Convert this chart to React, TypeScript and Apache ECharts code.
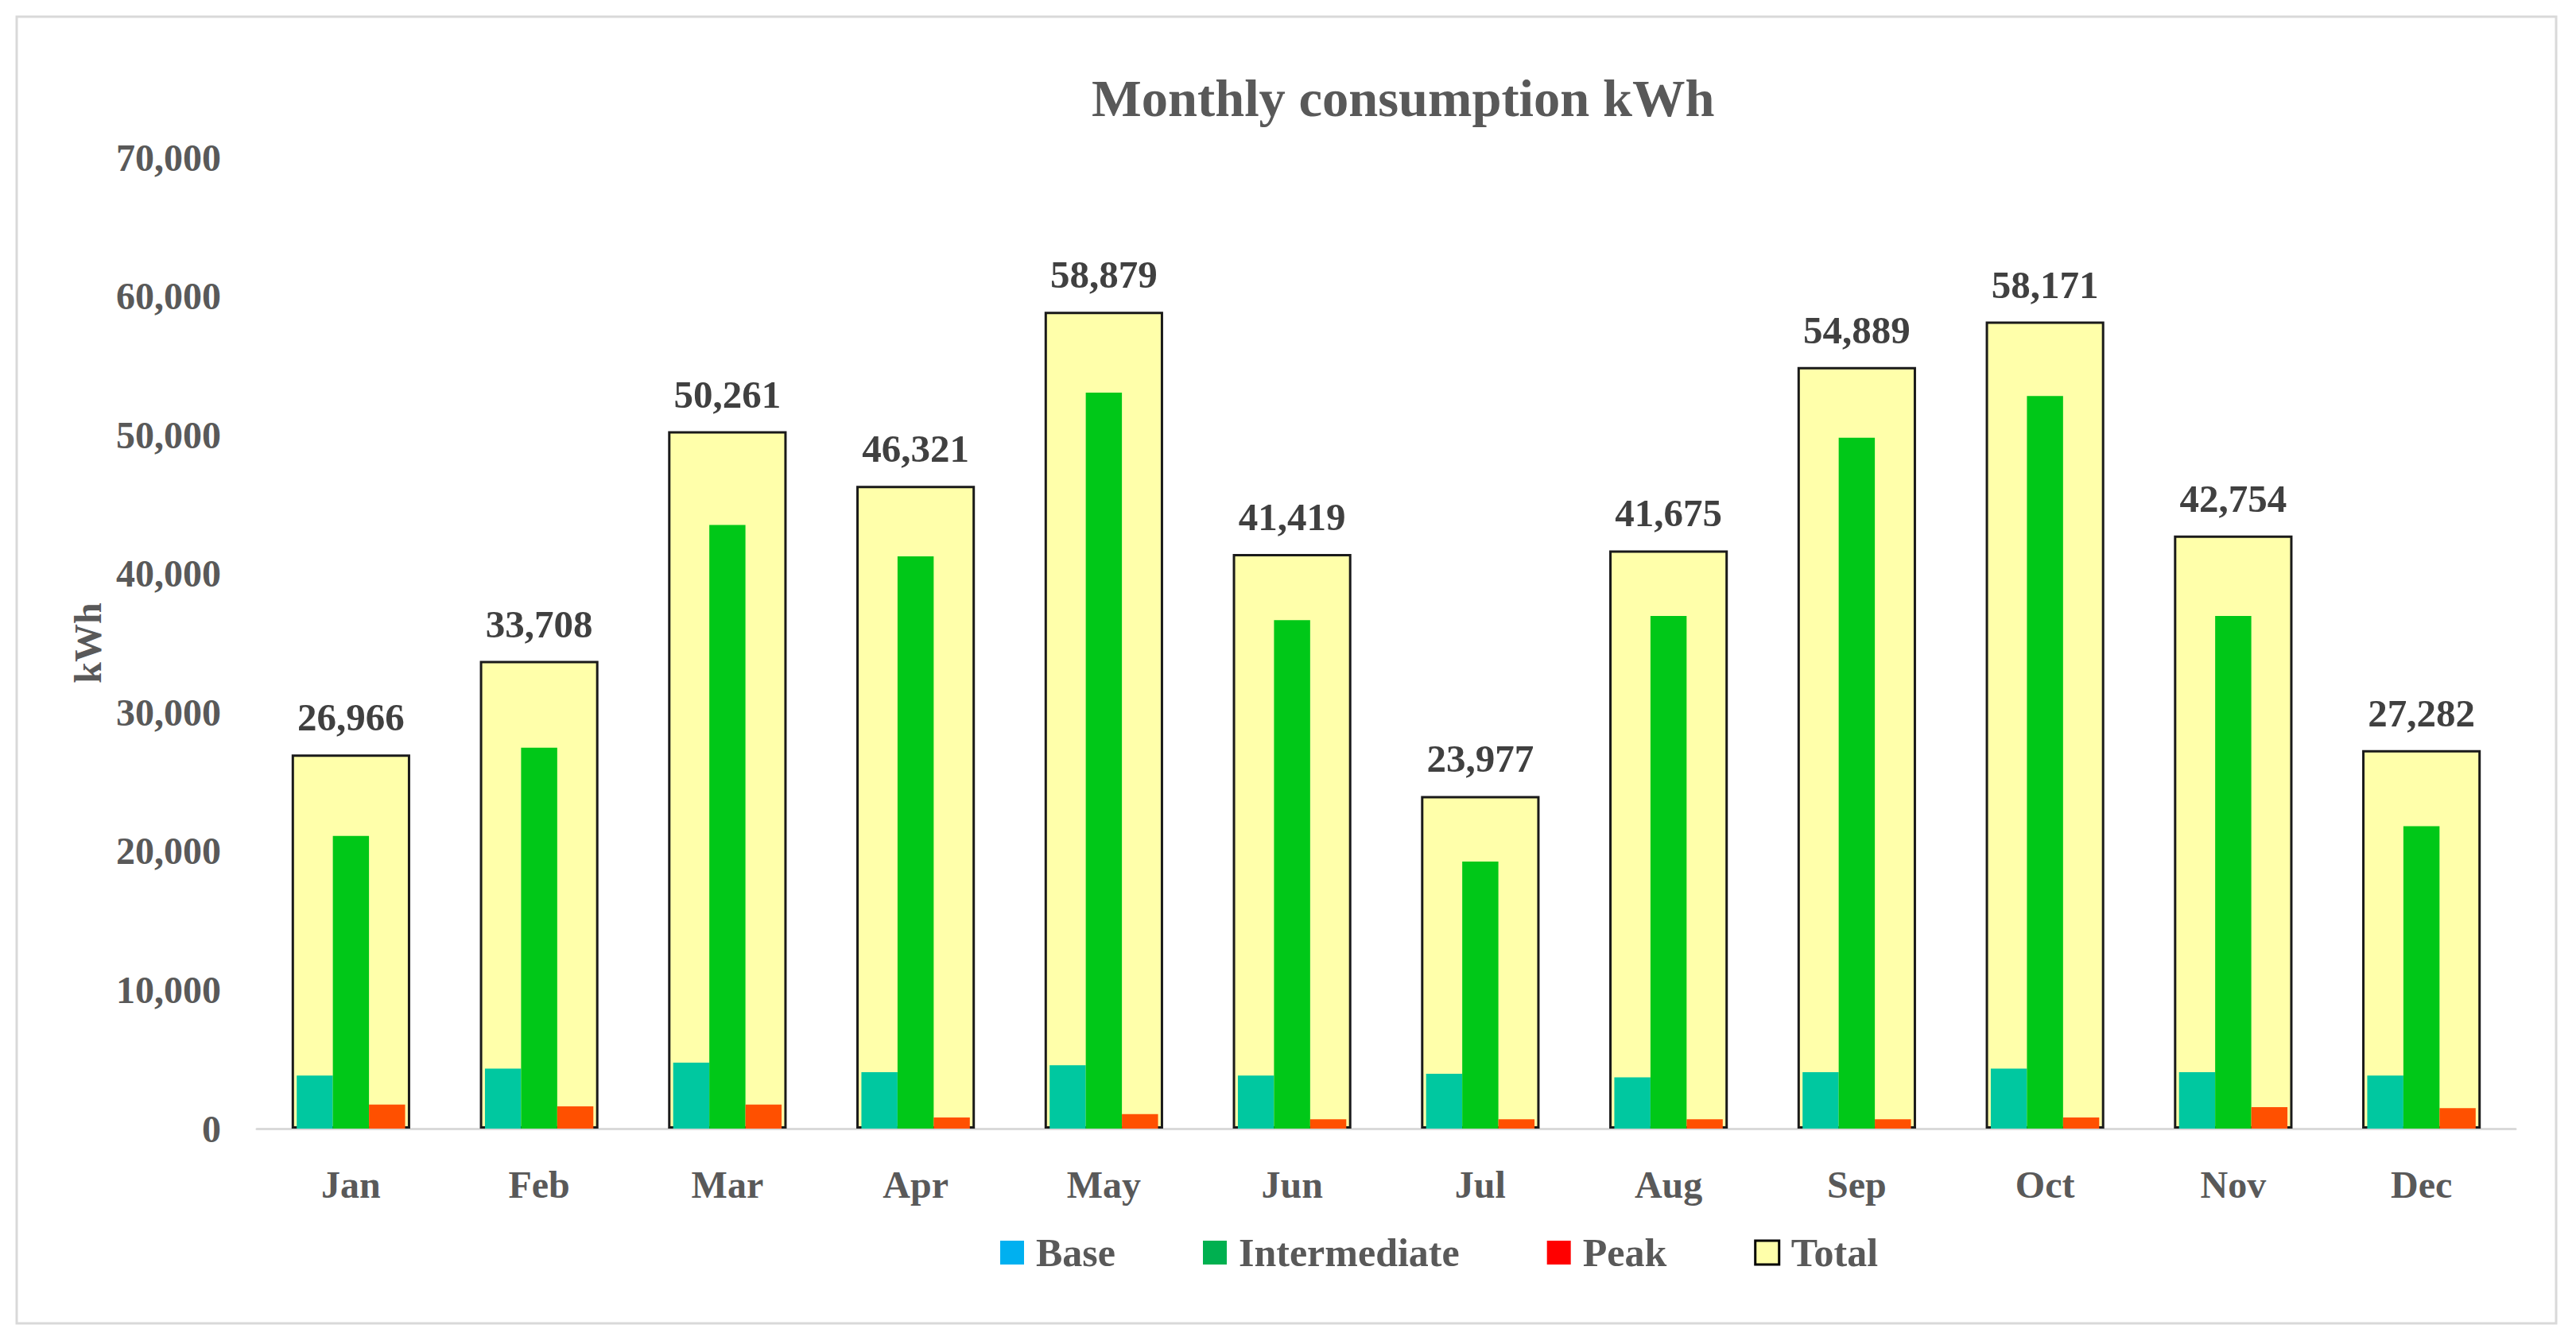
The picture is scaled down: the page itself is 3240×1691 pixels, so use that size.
import React, { useEffect, useRef } from "react";
import * as echarts from "echarts";

const months = ["Jan", "Feb", "Mar", "Apr", "May", "Jun", "Jul", "Aug", "Sep", "Oct", "Nov", "Dec"];
const baseValues = [3830, 4320, 4750, 4070, 4570, 3830, 3950, 3700, 4070, 4320, 4070, 3830];
const intermediateValues = [21100, 27450, 43500, 41250, 53050, 36650, 19250, 36950, 49800, 52800, 36950, 21800];
const peakValues = [1730, 1600, 1730, 800, 1050, 680, 680, 680, 680, 800, 1540, 1480];
const totalValues = [26966, 33708, 50261, 46321, 58879, 41419, 23977, 41675, 54889, 58171, 42754, 27282];
const yTicks = { min: 0, max: 70000, interval: 10000 };

const FONT = "'Liberation Serif', 'DejaVu Serif', serif";
const GRAY = "#595959";

export default function App() {
  const ref = useRef<HTMLDivElement>(null);
  useEffect(() => {
    document.body.style.margin = "0";
    const chart = echarts.init(ref.current!, null, { renderer: "svg" });
    const fmt = (v: number) => Number(v).toLocaleString("en-US");
    chart.setOption({
      animation: false,
      backgroundColor: "#ffffff",
      textStyle: { fontFamily: FONT },
      title: {
        text: "Monthly consumption kWh",
        left: 1368,
        top: 85,
        textStyle: { fontFamily: FONT, fontSize: 66.5, fontWeight: "bold", color: GRAY },
      },
      graphic: [
        {
          type: "rect",
          shape: { x: 21, y: 21, width: 3194, height: 1644 },
          style: { fill: "none", stroke: "#D9D9D9", lineWidth: 3 },
          silent: true,
        },
      ],
      legend: {
        left: 1253,
        top: 1546,
        itemWidth: 30,
        itemHeight: 30,
        itemGap: 110,
        icon: "rect",
        textStyle: { fontFamily: FONT, fontSize: 50, fontWeight: "bold", color: GRAY, padding: [0, 0, 0, 10] },
        data: [
          { name: "Base", itemStyle: { color: "#00B0F0", borderWidth: 0 } },
          { name: "Intermediate", itemStyle: { color: "#00B050", borderWidth: 0 } },
          { name: "Peak", itemStyle: { color: "#FF0000", borderWidth: 0 } },
          { name: "Total", itemStyle: { color: "#FFFFAA", borderColor: "#000000", borderWidth: 3 } },
        ],
      },
      grid: { left: 323, right: 76, top: 198, bottom: 271, containLabel: false },
      xAxis: [
        {
          type: "category",
          data: months,
          axisLine: { lineStyle: { color: "#D9D9D9", width: 3 } },
          axisTick: { show: false },
          axisLabel: { margin: 46, fontFamily: FONT, fontSize: 48, fontWeight: "bold", color: GRAY },
        },
        {
          type: "category",
          data: months,
          show: false,
        },
      ],
      yAxis: {
        type: "value",
        min: yTicks.min,
        max: yTicks.max,
        interval: yTicks.interval,
        name: "kWh",
        nameLocation: "middle",
        nameGap: 189,
        nameTextStyle: { fontFamily: FONT, fontSize: 48, fontWeight: "bold", color: GRAY },
        axisLine: { show: false },
        axisTick: { show: false },
        splitLine: { show: false },
        axisLabel: { margin: 45, fontFamily: FONT, fontSize: 48, fontWeight: "bold", color: GRAY, formatter: fmt },
      },
      series: [
        {
          name: "Total",
          type: "bar",
          xAxisIndex: 0,
          data: totalValues,
          barWidth: "63%",
          z: 1,
          itemStyle: { color: "#FFFFAA", borderColor: "#1a1a1a", borderWidth: 3 },
          label: {
            show: true,
            position: "top",
            distance: 22,
            formatter: (p: any) => fmt(p.value),
            fontFamily: FONT,
            fontSize: 49,
            fontWeight: "bold",
            color: "#404040",
          },
        },
        {
          name: "Base",
          type: "bar",
          xAxisIndex: 1,
          data: baseValues,
          barWidth: "19.2%",
          barGap: "0%",
          z: 3,
          itemStyle: { color: "#00C8A0" },
        },
        {
          name: "Intermediate",
          type: "bar",
          xAxisIndex: 1,
          data: intermediateValues,
          barWidth: "19.2%",
          barGap: "0%",
          z: 3,
          itemStyle: { color: "#00C818" },
        },
        {
          name: "Peak",
          type: "bar",
          xAxisIndex: 1,
          data: peakValues,
          barWidth: "19.2%",
          barGap: "0%",
          z: 3,
          itemStyle: { color: "#FF5000" },
        },
      ],
    });
    return () => chart.dispose();
  }, []);
  return <div ref={ref} style={{ width: 3240, height: 1691 }} />;
}
